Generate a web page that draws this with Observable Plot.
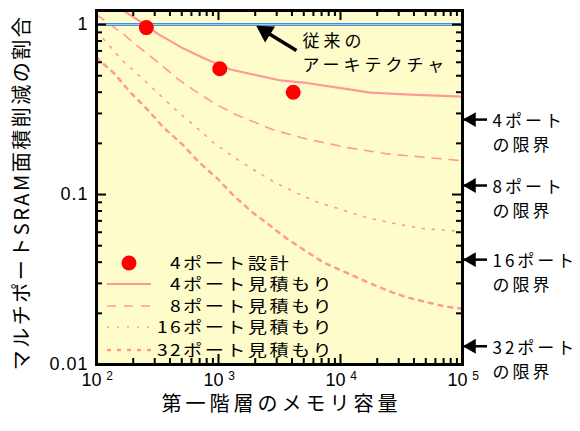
<!DOCTYPE html>
<html><head><meta charset="utf-8">
<script src="https://cdn.jsdelivr.net/npm/d3@7"></script>
<script src="https://cdn.jsdelivr.net/npm/@observablehq/plot@0.6"></script>
<style>body{margin:0;background:#fff} svg{display:block}</style>
</head><body><div id="chart"></div>
<script>
// ---- data ----
const memSize4 = [100, 157, 257, 316, 516, 767, 1253, 3220, 4980, 9450, 17600, 37500, 100000];
const est4     = [1.5, 1.24, 0.987, 0.885, 0.722, 0.631, 0.544, 0.469, 0.456, 0.426, 0.398, 0.387, 0.377];
const memSize8 = [100, 160, 225, 328, 470, 635, 964, 1377, 2010, 2770, 5160, 11400, 23400, 51600, 100000];
const est8     = [1.145, 0.897, 0.732, 0.590, 0.475, 0.409, 0.338, 0.296, 0.265, 0.241, 0.213, 0.189, 0.174, 0.165, 0.158];
const memSize16 = [100, 121, 163, 238, 335, 470, 660, 927, 1352, 1937, 2880, 4530, 6600, 9640, 16300, 27700, 47000, 81300, 100000];
const est16     = [0.91, 0.784, 0.614, 0.481, 0.382, 0.304, 0.248, 0.200, 0.165, 0.140, 0.118, 0.101, 0.0897, 0.0826, 0.0733, 0.0675, 0.0631, 0.0613, 0.0605];
const memSize32 = [100, 140, 190, 262, 354, 507, 698, 981, 1328, 1900, 2520, 3610, 4980, 7260, 10600, 14900, 20100, 27200, 36100, 51600, 75300, 100000];
const est32     = [0.640, 0.515, 0.398, 0.316, 0.248, 0.197, 0.154, 0.124, 0.0986, 0.0785, 0.0675, 0.0552, 0.0474, 0.0398, 0.0353, 0.0316, 0.0288, 0.0264, 0.0247, 0.0232, 0.0218, 0.0213];
const designSize  = [256, 1024, 4096];
const designRatio = [0.96, 0.55, 0.40];
const conventional = [1];
const portLabels = ["4ポート", "8ポート", "16ポート", "32ポート"];
const portLimits = [0.276, 0.113, 0.0414, 0.0128];
const annoTip  = [2207, 0.947];
const annoTail = [4355, 0.703];
const annoText = "従来の\nアーキテクチャ";
const xMajor = [1e2, 1e3, 1e4, 1e5];
const xExp = ["2", "3", "4", "5"];
const xMinor = [2,3,4,5,6,7,8,9].flatMap(m => [1e2, 1e3, 1e4].map(d => m * d));
const yMajor = [0.01, 0.1, 1];
const yTickLabels = ["0.01", "0.1", "1"];
const yMinor = [2,3,4,5,6,7,8,9].flatMap(m => [0.01, 0.1].map(d => m * d));
const legendLabels = ["4ポート設計", "4ポート見積もり", "8ポート見積もり", "16ポート見積もり", "32ポート見積もり"];
const xTitle = "第一階層のメモリ容量";
const yTitle = "マルチポートSRAM面積削減の割合";

// ---- layout / style ----
const W = 580, H = 431, mL = 96, mR = 118, mT = 10, mB = 67;
const pw = W - mL - mR, ph = H - mT - mB;
const jp = "'Noto Sans CJK JP', sans-serif";
const num = "'Liberation Sans', Arial, sans-serif";
const pink = "#ff9999";
const rows = (xs, ys) => xs.map((x, i) => ({x, y: ys[i]}));
const styles = {
  s4:  {stroke: pink, strokeWidth: 2.2},
  s8:  {stroke: pink, strokeWidth: 1.6, strokeDasharray: "9,8"},
  s16: {stroke: pink, strokeWidth: 1.6, strokeDasharray: "2,8"},
  s32: {stroke: pink, strokeWidth: 2.5, strokeDasharray: "4,6"}
};

const chart = Plot.plot({
  width: W, height: H, marginLeft: mL, marginRight: mR, marginTop: mT, marginBottom: mB,
  x: {type: "log", domain: [100, 1e5], axis: null},
  y: {type: "log", domain: [0.01, 1.21], axis: null},
  style: {background: "#fff", overflow: "visible"},
  marks: [
    Plot.frame({fill: "#fffccc", stroke: "none"}),
    Plot.line(rows(memSize32, est32), {x: "x", y: "y", ...styles.s32, clip: true}),
    Plot.line(rows(memSize16, est16), {x: "x", y: "y", ...styles.s16, clip: true}),
    Plot.line(rows(memSize8, est8), {x: "x", y: "y", ...styles.s8, clip: true}),
    Plot.line(rows(memSize4, est4), {x: "x", y: "y", ...styles.s4, clip: true}),
    Plot.ruleY(conventional, {stroke: "#3d8fd6", strokeWidth: 3}),
    Plot.ruleY(conventional, {stroke: "#a9d2f2", strokeWidth: 1}),
    Plot.dot(rows(designSize, designRatio), {x: "x", y: "y", r: 7.5, fill: "#ff0000"}),
    // ticks (inward)
    Plot.tickX(xMajor, {x: d => d, insetTop: ph - 10, stroke: "#000", strokeWidth: 2}),
    Plot.tickX(xMinor, {x: d => d, insetTop: ph - 6, stroke: "#000", strokeWidth: 2}),
    Plot.tickX(xMajor, {x: d => d, insetBottom: ph - 10, stroke: "#000", strokeWidth: 2}),
    Plot.tickX(xMinor, {x: d => d, insetBottom: ph - 6, stroke: "#000", strokeWidth: 2}),
    Plot.tickY(yMajor, {y: d => d, insetRight: pw - 10, stroke: "#000", strokeWidth: 2}),
    Plot.tickY(yMinor, {y: d => d, insetRight: pw - 6, stroke: "#000", strokeWidth: 2}),
    Plot.tickY(yMajor, {y: d => d, insetLeft: pw - 10, stroke: "#000", strokeWidth: 2}),
    Plot.tickY(yMinor, {y: d => d, insetLeft: pw - 6, stroke: "#000", strokeWidth: 2}),
    Plot.frame({stroke: "#000", strokeWidth: 3}),
    // tick labels
    Plot.text(yMajor.map((v, i) => ({v, t: yTickLabels[i]})), {y: "v", text: "t", frameAnchor: "left", textAnchor: "end", dx: -8, fontSize: 18, fontFamily: num, fill: "#000"}),
    Plot.text(xMajor, {x: d => d, text: () => "10", frameAnchor: "bottom", textAnchor: "middle", dx: -5, dy: 21, fontSize: 18, fontFamily: num, fill: "#000"}),
    Plot.text(xMajor.map((v, i) => ({v, e: xExp[i]})), {x: "v", text: "e", frameAnchor: "bottom", textAnchor: "middle", dx: 13, dy: 15, fontSize: 12, fontFamily: num, fill: "#000"}),
    // titles
    Plot.text([xTitle], {text: d => d, frameAnchor: "bottom", textAnchor: "middle", dy: 46, dx: 2, fontSize: 20, fontFamily: jp, fill: "#000"}),
    Plot.text([yTitle], {text: d => d, frameAnchor: "left", textAnchor: "middle", rotate: -90, dx: -74, dy: 5, fontSize: 20, fontFamily: jp, fill: "#000"}),
    // right-side limit arrows
    Plot.tickY(portLimits, {y: d => d, insetLeft: pw, insetRight: -25, stroke: "#000", strokeWidth: 2.5}),
    Plot.dot(portLimits, {y: d => d, frameAnchor: "right", symbol: "triangle", rotate: -90, r: 5.5, fill: "#000", dx: 9}),
    Plot.text(portLimits.map((v, i) => ({v, t: portLabels[i] + "\nの限界"})), {y: "v", text: "t", frameAnchor: "right", textAnchor: "start", dx: 30, dy: 12, lineHeight: 1.38, fontSize: 17, fontFamily: jp, fill: "#000"}),
    // conventional annotation
    Plot.link([0], {x1: () => annoTail[0], y1: () => annoTail[1], x2: () => annoTip[0], y2: () => annoTip[1], stroke: "#000", strokeWidth: 3.5}),
    Plot.dot([0], {x: () => annoTip[0], y: () => annoTip[1], symbol: "triangle", rotate: -58, r: 7, fill: "#000", dx: 5, dy: 3}),
    Plot.text([annoText], {x: () => annoTail[0], y: () => annoTail[1], text: d => d, textAnchor: "start", dx: 6, dy: 1, lineHeight: 1.38, fontSize: 17, fontFamily: jp, fill: "#000"})
  ]
});

const svg = d3.select(chart);
const spacing = (pred, px) => svg.selectAll("text").filter(function () { return pred(this.textContent); }).style("letter-spacing", px);
spacing(t => yTickLabels.includes(t), "1px");
spacing(t => t === xTitle, "4px");
spacing(t => t === yTitle, "2.5px");
spacing(t => portLabels.some(l => t.startsWith(l)), "3px");
spacing(t => t.startsWith("従来の"), "4px");

// legend (inside plot, bottom-left)
const lg = svg.append("g").attr("transform", `translate(${mL},${H - mB})`);
const items = [
  {kind: "dot", dy: -101, tx: 74},
  {kind: "s4", dy: -80, tx: 74},
  {kind: "s8", dy: -58, tx: 74},
  {kind: "s16", dy: -37, tx: 61},
  {kind: "s32", dy: -14, tx: 61}
];
items.forEach((it, i) => {
  if (it.kind === "dot") {
    lg.append("circle").attr("cx", 33).attr("cy", it.dy).attr("r", 7.5).attr("fill", "#ff0000");
  } else {
    const s = styles[it.kind];
    lg.append("line").attr("x1", 11).attr("x2", 55).attr("y1", it.dy).attr("y2", it.dy)
      .attr("stroke", s.stroke).attr("stroke-width", s.strokeWidth)
      .attr("stroke-dasharray", s.strokeDasharray || null);
  }
  const g = lg.append("g").attr("transform", `translate(${it.tx},${it.dy}) scale(1.2,1)`);
  g.append("text").attr("dy", "0.35em")
    .attr("font-family", jp).attr("font-size", 16).style("letter-spacing", "2px")
    .attr("text-anchor", "start").text(legendLabels[i]);
});

document.getElementById("chart").appendChild(chart);
</script>
</body></html>
